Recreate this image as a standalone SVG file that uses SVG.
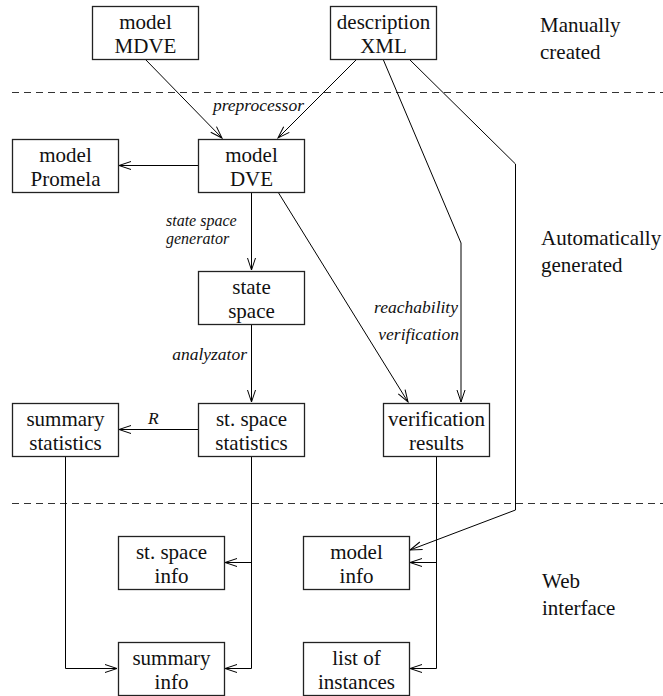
<svg xmlns="http://www.w3.org/2000/svg" width="663" height="696" viewBox="0 0 663 696">
<style>
.box{fill:#fff;stroke:#222;stroke-width:1.3}
.bt{font-family:"Liberation Serif",serif;font-size:21px;fill:#111;text-anchor:middle}
.it{font-family:"Liberation Serif",serif;font-size:17.5px;font-style:italic;fill:#111}
.it2{font-family:"Liberation Serif",serif;font-size:16px;font-style:italic;fill:#111}
.side{font-family:"Liberation Serif",serif;font-size:21px;fill:#111}
.c{fill:none;stroke:#000;stroke-width:1}
.dash{fill:none;stroke:#333;stroke-width:1;stroke-dasharray:7 5}
</style>
<defs>
<marker id="ah" viewBox="-13 -5 14 10" refX="0" refY="0" markerWidth="14" markerHeight="10" markerUnits="userSpaceOnUse" orient="auto">
<path d="M-12,-4 L0,0 L-12,4" fill="none" stroke="#000" stroke-width="1"/>
</marker>
</defs>
<g id="separators">
<path class="dash" d="M12,92.5 H663"/>
<path class="dash" d="M12,503.5 H663"/>
</g>
<g id="connectors">
<path class="c" d="M145,59 L222,138" marker-end="url(#ah)"/>
<path class="c" d="M357,59 L278,138" marker-end="url(#ah)"/>
<path class="c" d="M383,59 L461,243 L461,402" marker-end="url(#ah)"/>
<path class="c" d="M409,59 L515.5,164 L515.5,510 L410,550" marker-end="url(#ah)"/>
<path class="c" d="M198,165.5 L119,165.5" marker-end="url(#ah)"/>
<path class="c" d="M251.5,192 L251.5,270" marker-end="url(#ah)"/>
<path class="c" d="M278,192 L408,402" marker-end="url(#ah)"/>
<path class="c" d="M251.5,324 L251.5,402" marker-end="url(#ah)"/>
<path class="c" d="M198,429.5 L119,429.5" marker-end="url(#ah)"/>
<path class="c" d="M251.5,456 L251.5,562.5 L225,562.5" marker-end="url(#ah)"/>
<path class="c" d="M251.5,456 L251.5,668.5 L225,668.5" marker-end="url(#ah)"/>
<path class="c" d="M65.5,456 L65.5,668.5 L117,668.5" marker-end="url(#ah)"/>
<path class="c" d="M436.5,456 L436.5,562.5 L410,562.5" marker-end="url(#ah)"/>
<path class="c" d="M436.5,456 L436.5,668.5 L410,668.5" marker-end="url(#ah)"/>
</g>
<g id="edge-labels">
<text class="it" x="304" y="111" text-anchor="end">preprocessor</text>
<text class="it2" x="166" y="226">state space</text>
<text class="it2" x="166" y="244">generator</text>
<text class="it" x="247" y="360" text-anchor="end">analyzator</text>
<text class="it" x="148" y="424">R</text>
<text class="it" x="458" y="313" text-anchor="end">reachability</text>
<text class="it" x="459" y="340" text-anchor="end">verification</text>
</g>
<g id="zone-labels">
<text class="side" x="540" y="32">Manually</text>
<text class="side" x="540" y="59">created</text>
<text class="side" x="541" y="245">Automatically</text>
<text class="side" x="541" y="272">generated</text>
<text class="side" x="542" y="588">Web</text>
<text class="side" x="542" y="615">interface</text>
</g>
<g id="model-mdve"><rect class="box" x="92.5" y="6.5" width="106" height="53"/><text class="bt" x="145.5" y="29">model</text><text class="bt" x="145.5" y="53">MDVE</text></g>
<g id="description-xml"><rect class="box" x="330.5" y="6.5" width="106" height="53"/><text class="bt" x="383.5" y="29">description</text><text class="bt" x="383.5" y="53">XML</text></g>
<g id="model-promela"><rect class="box" x="12.5" y="139.5" width="106" height="53"/><text class="bt" x="65.5" y="162">model</text><text class="bt" x="65.5" y="186">Promela</text></g>
<g id="model-dve"><rect class="box" x="198.5" y="139.5" width="106" height="53"/><text class="bt" x="251.5" y="162">model</text><text class="bt" x="251.5" y="186">DVE</text></g>
<g id="state-space"><rect class="box" x="198.5" y="271.5" width="106" height="53"/><text class="bt" x="251.5" y="294">state</text><text class="bt" x="251.5" y="318">space</text></g>
<g id="summary-statistics"><rect class="box" x="12.5" y="403.5" width="106" height="53"/><text class="bt" x="65.5" y="426">summary</text><text class="bt" x="65.5" y="450">statistics</text></g>
<g id="st-space-statistics"><rect class="box" x="198.5" y="403.5" width="106" height="53"/><text class="bt" x="251.5" y="426">st. space</text><text class="bt" x="251.5" y="450">statistics</text></g>
<g id="verification-results"><rect class="box" x="383.5" y="403.5" width="106" height="53"/><text class="bt" x="436.5" y="426">verification</text><text class="bt" x="436.5" y="450">results</text></g>
<g id="st-space-info"><rect class="box" x="118.5" y="536.5" width="106" height="53"/><text class="bt" x="171.5" y="559">st. space</text><text class="bt" x="171.5" y="583">info</text></g>
<g id="model-info"><rect class="box" x="303.5" y="536.5" width="106" height="53"/><text class="bt" x="356.5" y="559">model</text><text class="bt" x="356.5" y="583">info</text></g>
<g id="summary-info"><rect class="box" x="118.5" y="642.5" width="106" height="53"/><text class="bt" x="171.5" y="665">summary</text><text class="bt" x="171.5" y="689">info</text></g>
<g id="list-of-instances"><rect class="box" x="303.5" y="642.5" width="106" height="53"/><text class="bt" x="356.5" y="665">list of</text><text class="bt" x="356.5" y="689">instances</text></g>
</svg>
